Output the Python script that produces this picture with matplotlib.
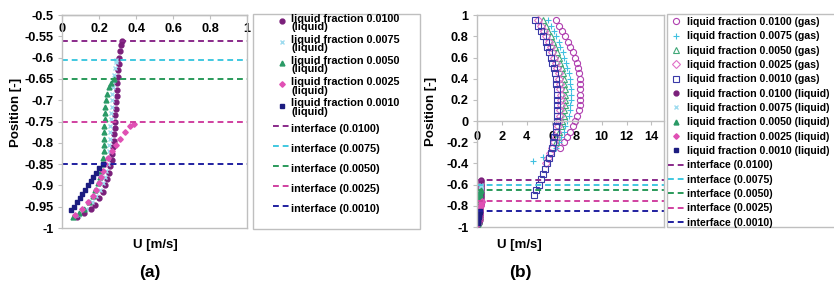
import matplotlib
matplotlib.use('Agg')
import matplotlib.pyplot as plt
from matplotlib.patches import Rectangle
from matplotlib.ticker import FuncFormatter

plt.rcParams['font.family'] = ['Liberation Sans', 'DejaVu Sans']
plt.rcParams['font.weight'] = 'bold'

fractions = ['0.0100', '0.0075', '0.0050', '0.0025', '0.0010']
interface_y = [-0.56, -0.605, -0.65, -0.75, -0.85]

# liquid velocity profiles (position, U)
liq_y_0100 = [-0.975, -0.965, -0.955, -0.945, -0.93, -0.915, -0.90, -0.885, -0.87, -0.855, -0.84, -0.825,
              -0.81, -0.795, -0.78, -0.765, -0.75, -0.735, -0.72, -0.705, -0.69, -0.675, -0.66, -0.645,
              -0.63, -0.615, -0.60, -0.585, -0.57, -0.56]
liq_u_0100 = [0.08, 0.12, 0.155, 0.18, 0.20, 0.22, 0.235, 0.245, 0.255, 0.262, 0.268, 0.272,
              0.276, 0.279, 0.282, 0.285, 0.287, 0.289, 0.291, 0.293, 0.295, 0.297, 0.299, 0.301,
              0.303, 0.306, 0.309, 0.313, 0.318, 0.322]
liq_y_0075 = [-0.97, -0.955, -0.94, -0.925, -0.91, -0.895, -0.88, -0.865, -0.85, -0.835, -0.82, -0.805,
              -0.79, -0.775, -0.76, -0.745, -0.73, -0.715, -0.70, -0.685, -0.67, -0.655, -0.64, -0.625,
              -0.61, -0.605]
liq_u_0075 = [0.09, 0.13, 0.16, 0.185, 0.205, 0.22, 0.232, 0.24, 0.246, 0.25, 0.253, 0.256,
              0.258, 0.26, 0.262, 0.264, 0.266, 0.268, 0.27, 0.272, 0.275, 0.278, 0.281, 0.285,
              0.29, 0.292]
liq_y_0050 = [-0.975, -0.965, -0.955, -0.94, -0.925, -0.91, -0.895, -0.88, -0.865, -0.85, -0.835, -0.82,
              -0.805, -0.79, -0.775, -0.76, -0.745, -0.73, -0.715, -0.70, -0.685, -0.67, -0.66, -0.65]
liq_u_0050 = [0.06, 0.09, 0.12, 0.145, 0.165, 0.18, 0.195, 0.205, 0.213, 0.22, 0.224, 0.226,
              0.227, 0.228, 0.228, 0.229, 0.23, 0.232, 0.235, 0.239, 0.245, 0.255, 0.265, 0.28]
liq_y_0025 = [-0.97, -0.955, -0.94, -0.925, -0.91, -0.895, -0.88, -0.865, -0.85, -0.835, -0.82, -0.805,
              -0.79, -0.775, -0.76, -0.755]
liq_u_0025 = [0.07, 0.11, 0.14, 0.165, 0.185, 0.20, 0.212, 0.222, 0.232, 0.25, 0.27, 0.29,
              0.315, 0.34, 0.37, 0.39]
liq_y_0010 = [-0.958, -0.95, -0.94, -0.93, -0.92, -0.91, -0.90, -0.89, -0.88, -0.87, -0.86, -0.85]
liq_u_0010 = [0.05, 0.065, 0.08, 0.095, 0.11, 0.125, 0.14, 0.155, 0.17, 0.185, 0.2, 0.222]

# gas velocity profiles (position, U)
gas_y_0100 = [0.95, 0.9, 0.85, 0.8, 0.75, 0.7, 0.65, 0.6, 0.55, 0.5, 0.45, 0.4, 0.35, 0.3, 0.25, 0.2,
              0.15, 0.1, 0.05, 0, -0.05, -0.1, -0.15, -0.2, -0.25]
gas_u_0100 = [6.3, 6.6, 6.85, 7.1, 7.3, 7.5, 7.7, 7.85, 8.0, 8.1, 8.2, 8.25, 8.3, 8.3, 8.3, 8.3,
              8.25, 8.15, 8.05, 7.9, 7.7, 7.5, 7.25, 7.0, 6.7]
gas_y_0075 = [0.95, 0.9, 0.85, 0.8, 0.75, 0.7, 0.65, 0.6, 0.55, 0.5, 0.45, 0.4, 0.35, 0.3, 0.25, 0.2,
              0.15, 0.1, 0.05, 0, -0.05, -0.1, -0.15, -0.2, -0.25, -0.34, -0.38]
gas_u_0075 = [5.7, 5.95, 6.15, 6.35, 6.55, 6.7, 6.9, 7.0, 7.15, 7.25, 7.35, 7.45, 7.5, 7.55, 7.55, 7.55,
              7.5, 7.45, 7.35, 7.25, 7.1, 6.95, 6.75, 6.55, 6.35, 5.3, 4.5]
gas_y_0050 = [0.95, 0.9, 0.85, 0.8, 0.75, 0.7, 0.65, 0.6, 0.55, 0.5, 0.45, 0.4, 0.35, 0.3, 0.25, 0.2,
              0.15, 0.1, 0.05, 0, -0.05, -0.1, -0.15, -0.2]
gas_u_0050 = [5.3, 5.5, 5.7, 5.9, 6.1, 6.25, 6.4, 6.55, 6.7, 6.8, 6.9, 6.95, 7.0, 7.05, 7.05, 7.05,
              7.05, 7.0, 6.95, 6.85, 6.75, 6.6, 6.45, 6.3]
gas_y_0025 = [0.95, 0.9, 0.85, 0.8, 0.75, 0.7, 0.65, 0.6, 0.55, 0.5, 0.45, 0.4, 0.35, 0.3, 0.25, 0.2,
              0.15, 0.1, 0.05, 0, -0.05, -0.1, -0.15, -0.2, -0.25, -0.3, -0.35, -0.4]
gas_u_0025 = [4.9, 5.15, 5.35, 5.55, 5.75, 5.9, 6.05, 6.2, 6.35, 6.45, 6.55, 6.6, 6.65, 6.7, 6.75, 6.75,
              6.75, 6.7, 6.65, 6.6, 6.5, 6.4, 6.3, 6.15, 6.0, 5.85, 5.7, 5.55]
gas_y_0010 = [0.95, 0.9, 0.85, 0.8, 0.75, 0.7, 0.65, 0.6, 0.55, 0.5, 0.45, 0.4, 0.35, 0.3, 0.25, 0.2,
              0.15, 0.1, 0.05, 0, -0.05, -0.1, -0.15, -0.2, -0.25, -0.3, -0.35, -0.4, -0.45, -0.5,
              -0.55, -0.6, -0.65, -0.7]
gas_u_0010 = [4.65, 4.9, 5.1, 5.3, 5.5, 5.65, 5.8, 5.95, 6.05, 6.15, 6.25, 6.3, 6.35, 6.4, 6.45, 6.45,
              6.45, 6.45, 6.45, 6.4, 6.35, 6.3, 6.2, 6.1, 6.0, 5.9, 5.75, 5.6, 5.45, 5.3,
              5.1, 4.95, 4.75, 4.55]

liq_y = [liq_y_0100, liq_y_0075, liq_y_0050, liq_y_0025, liq_y_0010]
liq_u = [liq_u_0100, liq_u_0075, liq_u_0050, liq_u_0025, liq_u_0010]
gas_y = [gas_y_0100, gas_y_0075, gas_y_0050, gas_y_0025, gas_y_0010]
gas_u = [gas_u_0100, gas_u_0075, gas_u_0050, gas_u_0025, gas_u_0010]

liq_colors = ['#7a1f7a', '#9fdcef', '#2a9a66', '#e050b4', '#1c1c80']
liq_markers = ['o', 'x', '^', 'D', 's']
liq_ms = [3.5, 3.5, 3.5, 2.8, 3.2]
gas_colors = ['#b040b0', '#40c0e0', '#40a878', '#e070c8', '#3a3aa8']
gas_markers = ['o', '+', '^', 'D', 's']
line_colors = ['#8a2a8a', '#40c8e0', '#2a9a5a', '#d040a0', '#2020a0']

gray = '#bfbfbf'
fig = plt.figure(figsize=(8.34, 2.84), dpi=100)
ax1 = fig.add_axes([0.0743, 0.197, 0.222, 0.75])
ax2 = fig.add_axes([0.572, 0.2007, 0.224, 0.746])


def style_axis(ax, xcross):
    ax.spines['bottom'].set_position(('data', xcross))
    for s in ax.spines.values():
        s.set_color(gray)
        s.set_linewidth(1.0)
    ax.axhline(-1, color=gray, lw=1.0, clip_on=False, zorder=0)
    ax.tick_params(axis='both', colors=gray, labelcolor='black', length=3, labelsize=9.2)
    ax.tick_params(axis='x', pad=3)
    ax.tick_params(axis='y', pad=3)
    for t in ax.get_xticklabels() + ax.get_yticklabels():
        t.set_fontweight('bold')
    ax.yaxis.set_major_formatter(FuncFormatter(lambda v, p: '%g' % round(v, 3)))
    ax.xaxis.set_major_formatter(FuncFormatter(lambda v, p: '%g' % round(v, 3)))


# panel (a)
h_a = []
for k in range(5):
    ln, = ax1.plot(liq_u[k], liq_y[k], ls='none', marker=liq_markers[k], ms=liq_ms[k],
                   color=liq_colors[k], mew=1.0, label='liquid fraction %s\n(liquid)' % fractions[k])
    h_a.append(ln)
for k in range(5):
    ln = ax1.axhline(interface_y[k], color=line_colors[k], ls='--', lw=1.4, dashes=(3, 2),
                     label='interface (%s)' % fractions[k])
    h_a.append(ln)
ax1.set_xlim(0, 1)
ax1.set_ylim(-1, -0.5)
ax1.set_xticks([0, 0.2, 0.4, 0.6, 0.8, 1])
ax1.set_yticks([-1, -0.95, -0.9, -0.85, -0.8, -0.75, -0.7, -0.65, -0.6, -0.55, -0.5])
style_axis(ax1, -0.5)
ax1.set_ylabel('Position [-]', fontsize=9.5, fontweight='bold')
ax1.yaxis.set_label_coords(-0.215, 0.545)

# panel (b)
h_b = []
for k in range(5):
    ln, = ax2.plot(gas_u[k], gas_y[k], ls='none', marker=gas_markers[k], ms=4.4, mfc='none',
                   mec=gas_colors[k], mew=0.8, label='liquid fraction %s (gas)' % fractions[k])
    h_b.append(ln)
for k in range(5):
    ln, = ax2.plot(liq_u[k], liq_y[k], ls='none', marker=liq_markers[k], ms=liq_ms[k],
                   color=liq_colors[k], mew=1.0, label='liquid fraction %s (liquid)' % fractions[k])
    h_b.append(ln)
for k in range(5):
    ln = ax2.axhline(interface_y[k], color=line_colors[k], ls='--', lw=1.4, dashes=(3, 2),
                     label='interface (%s)' % fractions[k])
    h_b.append(ln)
ax2.set_xlim(0, 15)
ax2.set_ylim(-1, 1)
ax2.set_xticks([0, 2, 4, 6, 8, 10, 12, 14])
ax2.set_yticks([-1, -0.8, -0.6, -0.4, -0.2, 0, 0.2, 0.4, 0.6, 0.8, 1])
style_axis(ax2, 0)
ax2.tick_params(axis='x', pad=4)
ax2.set_ylabel('Position [-]', fontsize=9.5, fontweight='bold')
ax2.yaxis.set_label_coords(-0.215, 0.545)

# axis titles and panel tags
fig.text(0.186, 0.137, 'U [m/s]', ha='center', va='center', fontsize=9.5, fontweight='bold')
fig.text(0.623, 0.137, 'U [m/s]', ha='center', va='center', fontsize=9.5, fontweight='bold')
fig.text(0.18, 0.042, '(a)', ha='center', va='center', fontsize=12.5, fontweight='bold')
fig.text(0.624, 0.042, '(b)', ha='center', va='center', fontsize=12.5, fontweight='bold')

# legend frames
fig.patches.append(Rectangle((253 / 834, 55 / 284), 167 / 834, 215 / 284, transform=fig.transFigure,
                             fill=False, edgecolor=gray, lw=1.0))
fig.patches.append(Rectangle((667 / 834, 57 / 284), 170 / 834, 213 / 284, transform=fig.transFigure,
                             fill=False, edgecolor=gray, lw=1.0))

leg_a = fig.legend(handles=h_a, loc='upper left', bbox_to_anchor=(273 / 834, 0.952), frameon=False,
                   borderpad=0, borderaxespad=0, handlelength=1.6, handletextpad=0.1,
                   handleheight=2.1, labelspacing=0.25, prop={'weight': 'bold', 'size': 7.8})
for t in leg_a.get_texts():
    t.set_linespacing(0.8)

leg_b = fig.legend(handles=h_b, loc='upper left', bbox_to_anchor=(668 / 834, 0.94), frameon=False,
                   borderpad=0, borderaxespad=0, handlelength=1.6, handletextpad=0.2,
                   labelspacing=0.41, prop={'weight': 'bold', 'size': 7.6})

fig.savefig('out.png', dpi=100)
